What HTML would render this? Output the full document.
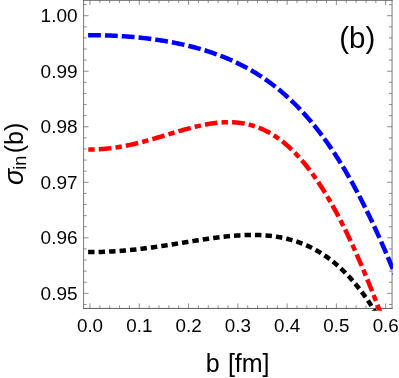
<!DOCTYPE html>
<html><head><meta charset="utf-8"><style>
html,body{margin:0;padding:0;background:#fff;}
body{width:399px;height:378px;overflow:hidden;}
svg{display:block;font-family:"Liberation Sans",sans-serif;}
</style></head><body>
<svg width="399" height="378" viewBox="0 0 399 378">
<rect width="399" height="378" fill="#fff"/>
<clipPath id="c"><rect x="83.6" y="-5" width="309.29999999999995" height="315.8"/></clipPath>
<g stroke="#747474" stroke-width="0.95" fill="none">
<line x1="83.6" y1="-0.6" x2="83.6" y2="308.95"/><line x1="392.05" y1="-0.6" x2="392.05" y2="308.95"/><line x1="83.1" y1="0.25" x2="392.55" y2="0.25" stroke="#4a4a4a" stroke-width="0.9"/><line x1="83.1" y1="308.45" x2="392.55" y2="308.45" stroke="#555"/>
</g>
<g stroke="#686868" stroke-width="0.75">
<line x1="90.00" y1="308.45" x2="90.00" y2="303.45"/>
<line x1="90.00" y1="-0.1" x2="90.00" y2="4.9"/>
<line x1="99.86" y1="308.45" x2="99.86" y2="305.34999999999997"/>
<line x1="99.86" y1="-0.1" x2="99.86" y2="3.0"/>
<line x1="109.71" y1="308.45" x2="109.71" y2="305.34999999999997"/>
<line x1="109.71" y1="-0.1" x2="109.71" y2="3.0"/>
<line x1="119.57" y1="308.45" x2="119.57" y2="305.34999999999997"/>
<line x1="119.57" y1="-0.1" x2="119.57" y2="3.0"/>
<line x1="129.42" y1="308.45" x2="129.42" y2="305.34999999999997"/>
<line x1="129.42" y1="-0.1" x2="129.42" y2="3.0"/>
<line x1="139.28" y1="308.45" x2="139.28" y2="303.45"/>
<line x1="139.28" y1="-0.1" x2="139.28" y2="4.9"/>
<line x1="149.14" y1="308.45" x2="149.14" y2="305.34999999999997"/>
<line x1="149.14" y1="-0.1" x2="149.14" y2="3.0"/>
<line x1="158.99" y1="308.45" x2="158.99" y2="305.34999999999997"/>
<line x1="158.99" y1="-0.1" x2="158.99" y2="3.0"/>
<line x1="168.85" y1="308.45" x2="168.85" y2="305.34999999999997"/>
<line x1="168.85" y1="-0.1" x2="168.85" y2="3.0"/>
<line x1="178.70" y1="308.45" x2="178.70" y2="305.34999999999997"/>
<line x1="178.70" y1="-0.1" x2="178.70" y2="3.0"/>
<line x1="188.56" y1="308.45" x2="188.56" y2="303.45"/>
<line x1="188.56" y1="-0.1" x2="188.56" y2="4.9"/>
<line x1="198.42" y1="308.45" x2="198.42" y2="305.34999999999997"/>
<line x1="198.42" y1="-0.1" x2="198.42" y2="3.0"/>
<line x1="208.27" y1="308.45" x2="208.27" y2="305.34999999999997"/>
<line x1="208.27" y1="-0.1" x2="208.27" y2="3.0"/>
<line x1="218.13" y1="308.45" x2="218.13" y2="305.34999999999997"/>
<line x1="218.13" y1="-0.1" x2="218.13" y2="3.0"/>
<line x1="227.98" y1="308.45" x2="227.98" y2="305.34999999999997"/>
<line x1="227.98" y1="-0.1" x2="227.98" y2="3.0"/>
<line x1="237.84" y1="308.45" x2="237.84" y2="303.45"/>
<line x1="237.84" y1="-0.1" x2="237.84" y2="4.9"/>
<line x1="247.70" y1="308.45" x2="247.70" y2="305.34999999999997"/>
<line x1="247.70" y1="-0.1" x2="247.70" y2="3.0"/>
<line x1="257.55" y1="308.45" x2="257.55" y2="305.34999999999997"/>
<line x1="257.55" y1="-0.1" x2="257.55" y2="3.0"/>
<line x1="267.41" y1="308.45" x2="267.41" y2="305.34999999999997"/>
<line x1="267.41" y1="-0.1" x2="267.41" y2="3.0"/>
<line x1="277.26" y1="308.45" x2="277.26" y2="305.34999999999997"/>
<line x1="277.26" y1="-0.1" x2="277.26" y2="3.0"/>
<line x1="287.12" y1="308.45" x2="287.12" y2="303.45"/>
<line x1="287.12" y1="-0.1" x2="287.12" y2="4.9"/>
<line x1="296.98" y1="308.45" x2="296.98" y2="305.34999999999997"/>
<line x1="296.98" y1="-0.1" x2="296.98" y2="3.0"/>
<line x1="306.83" y1="308.45" x2="306.83" y2="305.34999999999997"/>
<line x1="306.83" y1="-0.1" x2="306.83" y2="3.0"/>
<line x1="316.69" y1="308.45" x2="316.69" y2="305.34999999999997"/>
<line x1="316.69" y1="-0.1" x2="316.69" y2="3.0"/>
<line x1="326.54" y1="308.45" x2="326.54" y2="305.34999999999997"/>
<line x1="326.54" y1="-0.1" x2="326.54" y2="3.0"/>
<line x1="336.40" y1="308.45" x2="336.40" y2="303.45"/>
<line x1="336.40" y1="-0.1" x2="336.40" y2="4.9"/>
<line x1="346.26" y1="308.45" x2="346.26" y2="305.34999999999997"/>
<line x1="346.26" y1="-0.1" x2="346.26" y2="3.0"/>
<line x1="356.11" y1="308.45" x2="356.11" y2="305.34999999999997"/>
<line x1="356.11" y1="-0.1" x2="356.11" y2="3.0"/>
<line x1="365.97" y1="308.45" x2="365.97" y2="305.34999999999997"/>
<line x1="365.97" y1="-0.1" x2="365.97" y2="3.0"/>
<line x1="375.82" y1="308.45" x2="375.82" y2="305.34999999999997"/>
<line x1="375.82" y1="-0.1" x2="375.82" y2="3.0"/>
<line x1="385.68" y1="308.45" x2="385.68" y2="303.45"/>
<line x1="385.68" y1="-0.1" x2="385.68" y2="4.9"/>
<line x1="83.6" y1="4.59" x2="86.69999999999999" y2="4.59"/>
<line x1="392.05" y1="4.59" x2="388.95" y2="4.59"/>
<line x1="83.6" y1="15.70" x2="88.6" y2="15.70"/>
<line x1="392.05" y1="15.70" x2="387.05" y2="15.70"/>
<line x1="83.6" y1="26.81" x2="86.69999999999999" y2="26.81"/>
<line x1="392.05" y1="26.81" x2="388.95" y2="26.81"/>
<line x1="83.6" y1="37.91" x2="86.69999999999999" y2="37.91"/>
<line x1="392.05" y1="37.91" x2="388.95" y2="37.91"/>
<line x1="83.6" y1="49.02" x2="86.69999999999999" y2="49.02"/>
<line x1="392.05" y1="49.02" x2="388.95" y2="49.02"/>
<line x1="83.6" y1="60.12" x2="86.69999999999999" y2="60.12"/>
<line x1="392.05" y1="60.12" x2="388.95" y2="60.12"/>
<line x1="83.6" y1="71.23" x2="88.6" y2="71.23"/>
<line x1="392.05" y1="71.23" x2="387.05" y2="71.23"/>
<line x1="83.6" y1="82.34" x2="86.69999999999999" y2="82.34"/>
<line x1="392.05" y1="82.34" x2="388.95" y2="82.34"/>
<line x1="83.6" y1="93.44" x2="86.69999999999999" y2="93.44"/>
<line x1="392.05" y1="93.44" x2="388.95" y2="93.44"/>
<line x1="83.6" y1="104.55" x2="86.69999999999999" y2="104.55"/>
<line x1="392.05" y1="104.55" x2="388.95" y2="104.55"/>
<line x1="83.6" y1="115.65" x2="86.69999999999999" y2="115.65"/>
<line x1="392.05" y1="115.65" x2="388.95" y2="115.65"/>
<line x1="83.6" y1="126.76" x2="88.6" y2="126.76"/>
<line x1="392.05" y1="126.76" x2="387.05" y2="126.76"/>
<line x1="83.6" y1="137.87" x2="86.69999999999999" y2="137.87"/>
<line x1="392.05" y1="137.87" x2="388.95" y2="137.87"/>
<line x1="83.6" y1="148.97" x2="86.69999999999999" y2="148.97"/>
<line x1="392.05" y1="148.97" x2="388.95" y2="148.97"/>
<line x1="83.6" y1="160.08" x2="86.69999999999999" y2="160.08"/>
<line x1="392.05" y1="160.08" x2="388.95" y2="160.08"/>
<line x1="83.6" y1="171.18" x2="86.69999999999999" y2="171.18"/>
<line x1="392.05" y1="171.18" x2="388.95" y2="171.18"/>
<line x1="83.6" y1="182.29" x2="88.6" y2="182.29"/>
<line x1="392.05" y1="182.29" x2="387.05" y2="182.29"/>
<line x1="83.6" y1="193.40" x2="86.69999999999999" y2="193.40"/>
<line x1="392.05" y1="193.40" x2="388.95" y2="193.40"/>
<line x1="83.6" y1="204.50" x2="86.69999999999999" y2="204.50"/>
<line x1="392.05" y1="204.50" x2="388.95" y2="204.50"/>
<line x1="83.6" y1="215.61" x2="86.69999999999999" y2="215.61"/>
<line x1="392.05" y1="215.61" x2="388.95" y2="215.61"/>
<line x1="83.6" y1="226.71" x2="86.69999999999999" y2="226.71"/>
<line x1="392.05" y1="226.71" x2="388.95" y2="226.71"/>
<line x1="83.6" y1="237.82" x2="88.6" y2="237.82"/>
<line x1="392.05" y1="237.82" x2="387.05" y2="237.82"/>
<line x1="83.6" y1="248.93" x2="86.69999999999999" y2="248.93"/>
<line x1="392.05" y1="248.93" x2="388.95" y2="248.93"/>
<line x1="83.6" y1="260.03" x2="86.69999999999999" y2="260.03"/>
<line x1="392.05" y1="260.03" x2="388.95" y2="260.03"/>
<line x1="83.6" y1="271.14" x2="86.69999999999999" y2="271.14"/>
<line x1="392.05" y1="271.14" x2="388.95" y2="271.14"/>
<line x1="83.6" y1="282.24" x2="86.69999999999999" y2="282.24"/>
<line x1="392.05" y1="282.24" x2="388.95" y2="282.24"/>
<line x1="83.6" y1="293.35" x2="88.6" y2="293.35"/>
<line x1="392.05" y1="293.35" x2="387.05" y2="293.35"/>
<line x1="83.6" y1="304.46" x2="86.69999999999999" y2="304.46"/>
<line x1="392.05" y1="304.46" x2="388.95" y2="304.46"/>
</g>
<g clip-path="url(#c)" fill="none" stroke-width="4.5">
<path d="M88.10 252.07 L89.10 252.07 L90.10 252.07 L91.10 252.07 L92.10 252.07 L93.10 252.06 L94.10 252.05 L95.10 252.04 L96.10 252.02 L97.10 252.01 L98.10 251.99 L99.10 251.97 L100.10 251.94 L101.10 251.91 L102.10 251.88 L103.10 251.85 L104.10 251.82 L105.10 251.78 L106.10 251.74 L107.10 251.69 L108.10 251.65 L109.10 251.60 L110.10 251.55 L111.10 251.50 L112.10 251.44 L113.10 251.39 L114.10 251.33 L115.10 251.26 L116.10 251.20 L117.10 251.13 L118.10 251.06 L119.10 250.99 L120.10 250.91 L121.10 250.84 L122.10 250.76 L123.10 250.68 L124.10 250.59 L125.10 250.51 L126.10 250.42 L127.10 250.33 L128.10 250.24 L129.10 250.14 L130.10 250.04 L131.10 249.95 L132.10 249.84 L133.10 249.74 L134.10 249.64 L135.10 249.53 L136.10 249.42 L137.10 249.31 L138.10 249.20 L139.10 249.08 L140.10 248.96 L141.10 248.84 L142.10 248.72 L143.10 248.60 L144.10 248.48 L145.10 248.35 L146.10 248.22 L147.10 248.09 L148.10 247.96 L149.10 247.83 L150.10 247.70 L151.10 247.56 L152.10 247.42 L153.10 247.29 L154.10 247.15 L155.10 247.01 L156.10 246.86 L157.10 246.72 L158.10 246.57 L159.10 246.43 L160.10 246.28 L161.10 246.13 L162.10 245.98 L163.10 245.83 L164.10 245.68 L165.10 245.53 L166.10 245.37 L167.10 245.22 L168.10 245.06 L169.10 244.91 L170.10 244.75 L171.10 244.59 L172.10 244.43 L173.10 244.27 L174.10 244.11 L175.10 243.95 L176.10 243.79 L177.10 243.63 L178.10 243.47 L179.10 243.31 L180.10 243.15 L181.10 242.99 L182.10 242.82 L183.10 242.66 L184.10 242.50 L185.10 242.34 L186.10 242.18 L187.10 242.01 L188.10 241.85 L189.10 241.69 L190.10 241.53 L191.10 241.37 L192.10 241.21 L193.10 241.05 L194.10 240.89 L195.10 240.73 L196.10 240.57 L197.10 240.41 L198.10 240.26 L199.10 240.10 L200.10 239.95 L201.10 239.79 L202.10 239.64 L203.10 239.49 L204.10 239.34 L205.10 239.19 L206.10 239.04 L207.10 238.90 L208.10 238.75 L209.10 238.61 L210.10 238.47 L211.10 238.33 L212.10 238.19 L213.10 238.05 L214.10 237.92 L215.10 237.78 L216.10 237.65 L217.10 237.52 L218.10 237.40 L219.10 237.27 L220.10 237.15 L221.10 237.03 L222.10 236.91 L223.10 236.80 L224.10 236.69 L225.10 236.58 L226.10 236.47 L227.10 236.37 L228.10 236.27 L229.10 236.17 L230.10 236.07 L231.10 235.98 L232.10 235.90 L233.10 235.81 L234.10 235.73 L235.10 235.65 L236.10 235.58 L237.10 235.51 L238.10 235.44 L239.10 235.38 L240.10 235.32 L241.10 235.27 L242.10 235.21 L243.10 235.17 L244.10 235.13 L245.10 235.09 L246.10 235.06 L247.10 235.03 L248.10 235.00 L249.10 234.98 L250.10 234.97 L251.10 234.96 L252.10 234.96 L253.10 234.96 L254.10 234.96 L255.10 234.98 L256.10 234.99 L257.10 235.02 L258.10 235.04 L259.10 235.08 L260.10 235.12 L261.10 235.16 L262.10 235.22 L263.10 235.28 L264.10 235.34 L265.10 235.41 L266.10 235.49 L267.10 235.57 L268.10 235.66 L269.10 235.76 L270.10 235.86 L271.10 235.98 L272.10 236.09 L273.10 236.22 L274.10 236.35 L275.10 236.49 L276.10 236.64 L277.10 236.80 L278.10 236.96 L279.10 237.13 L280.10 237.31 L281.10 237.50 L282.10 237.70 L283.10 237.90 L284.10 238.11 L285.10 238.33 L286.10 238.56 L287.10 238.80 L288.10 239.05 L289.10 239.31 L290.10 239.58 L291.10 239.85 L292.10 240.14 L293.10 240.43 L294.10 240.74 L295.10 241.05 L296.10 241.38 L297.10 241.71 L298.10 242.06 L299.10 242.41 L300.10 242.78 L301.10 243.16 L302.10 243.54 L303.10 243.94 L304.10 244.35 L305.10 244.77 L306.10 245.20 L307.10 245.65 L308.10 246.10 L309.10 246.57 L310.10 247.05 L311.10 247.54 L312.10 248.04 L313.10 248.56 L314.10 249.09 L315.10 249.63 L316.10 250.18 L317.10 250.75 L318.10 251.33 L319.10 251.92 L320.10 252.53 L321.10 253.15 L322.10 253.79 L323.10 254.43 L324.10 255.10 L325.10 255.77 L326.10 256.46 L327.10 257.17 L328.10 257.89 L329.10 258.62 L330.10 259.37 L331.10 260.14 L332.10 260.92 L333.10 261.72 L334.10 262.53 L335.10 263.36 L336.10 264.20 L337.10 265.06 L338.10 265.94 L339.10 266.83 L340.10 267.74 L341.10 268.67 L342.10 269.61 L343.10 270.57 L344.10 271.55 L345.10 272.55 L346.10 273.57 L347.10 274.60 L348.10 275.65 L349.10 276.72 L350.10 277.81 L351.10 278.92 L352.10 280.04 L353.10 281.19 L354.10 282.36 L355.10 283.54 L356.10 284.75 L357.10 285.97 L358.10 287.22 L359.10 288.49 L360.10 289.77 L361.10 291.08 L362.10 292.41 L363.10 293.76 L364.10 295.14 L365.10 296.53 L366.10 297.95 L367.10 299.39 L368.10 300.85 L369.10 302.33 L370.10 303.84 L371.10 305.37 L372.10 306.92 L373.10 308.50 L374.10 310.11 L375.10 311.73 L375.87 313.00" stroke="#000" stroke-dasharray="6.45 4.05" />
<path d="M88.10 149.45 L89.10 149.46 L90.10 149.46 L91.10 149.46 L92.10 149.45 L93.10 149.43 L94.10 149.41 L95.10 149.39 L96.10 149.35 L97.10 149.31 L98.10 149.27 L99.10 149.22 L100.10 149.16 L101.10 149.10 L102.10 149.03 L103.10 148.95 L104.10 148.87 L105.10 148.79 L106.10 148.69 L107.10 148.60 L108.10 148.49 L109.10 148.38 L110.10 148.27 L111.10 148.15 L112.10 148.02 L113.10 147.89 L114.10 147.76 L115.10 147.61 L116.10 147.47 L117.10 147.31 L118.10 147.16 L119.10 146.99 L120.10 146.83 L121.10 146.65 L122.10 146.47 L123.10 146.29 L124.10 146.10 L125.10 145.91 L126.10 145.71 L127.10 145.51 L128.10 145.31 L129.10 145.10 L130.10 144.88 L131.10 144.66 L132.10 144.44 L133.10 144.21 L134.10 143.98 L135.10 143.74 L136.10 143.50 L137.10 143.26 L138.10 143.01 L139.10 142.76 L140.10 142.51 L141.10 142.25 L142.10 141.99 L143.10 141.73 L144.10 141.46 L145.10 141.19 L146.10 140.92 L147.10 140.65 L148.10 140.37 L149.10 140.09 L150.10 139.81 L151.10 139.52 L152.10 139.23 L153.10 138.94 L154.10 138.65 L155.10 138.36 L156.10 138.07 L157.10 137.77 L158.10 137.47 L159.10 137.17 L160.10 136.87 L161.10 136.57 L162.10 136.27 L163.10 135.97 L164.10 135.67 L165.10 135.36 L166.10 135.06 L167.10 134.76 L168.10 134.45 L169.10 134.15 L170.10 133.85 L171.10 133.54 L172.10 133.24 L173.10 132.94 L174.10 132.64 L175.10 132.34 L176.10 132.04 L177.10 131.74 L178.10 131.45 L179.10 131.15 L180.10 130.86 L181.10 130.57 L182.10 130.28 L183.10 130.00 L184.10 129.71 L185.10 129.43 L186.10 129.15 L187.10 128.88 L188.10 128.60 L189.10 128.33 L190.10 128.07 L191.10 127.81 L192.10 127.55 L193.10 127.29 L194.10 127.04 L195.10 126.80 L196.10 126.56 L197.10 126.32 L198.10 126.09 L199.10 125.86 L200.10 125.64 L201.10 125.42 L202.10 125.21 L203.10 125.00 L204.10 124.80 L205.10 124.61 L206.10 124.42 L207.10 124.24 L208.10 124.06 L209.10 123.89 L210.10 123.73 L211.10 123.58 L212.10 123.43 L213.10 123.29 L214.10 123.16 L215.10 123.03 L216.10 122.91 L217.10 122.81 L218.10 122.71 L219.10 122.61 L220.10 122.53 L221.10 122.45 L222.10 122.39 L223.10 122.33 L224.10 122.29 L225.10 122.25 L226.10 122.22 L227.10 122.20 L228.10 122.19 L229.10 122.20 L230.10 122.21 L231.10 122.23 L232.10 122.26 L233.10 122.31 L234.10 122.37 L235.10 122.43 L236.10 122.51 L237.10 122.60 L238.10 122.70 L239.10 122.82 L240.10 122.94 L241.10 123.08 L242.10 123.23 L243.10 123.39 L244.10 123.57 L245.10 123.76 L246.10 123.96 L247.10 124.18 L248.10 124.40 L249.10 124.65 L250.10 124.90 L251.10 125.17 L252.10 125.46 L253.10 125.75 L254.10 126.07 L255.10 126.39 L256.10 126.74 L257.10 127.09 L258.10 127.46 L259.10 127.85 L260.10 128.25 L261.10 128.67 L262.10 129.10 L263.10 129.55 L264.10 130.02 L265.10 130.50 L266.10 130.99 L267.10 131.51 L268.10 132.04 L269.10 132.58 L270.10 133.15 L271.10 133.72 L272.10 134.32 L273.10 134.93 L274.10 135.57 L275.10 136.21 L276.10 136.88 L277.10 137.56 L278.10 138.26 L279.10 138.98 L280.10 139.72 L281.10 140.47 L282.10 141.25 L283.10 142.04 L284.10 142.85 L285.10 143.67 L286.10 144.52 L287.10 145.39 L288.10 146.27 L289.10 147.17 L290.10 148.09 L291.10 149.04 L292.10 149.99 L293.10 150.97 L294.10 151.97 L295.10 152.99 L296.10 154.03 L297.10 155.08 L298.10 156.16 L299.10 157.26 L300.10 158.37 L301.10 159.51 L302.10 160.66 L303.10 161.84 L304.10 163.03 L305.10 164.25 L306.10 165.48 L307.10 166.74 L308.10 168.02 L309.10 169.31 L310.10 170.63 L311.10 171.96 L312.10 173.32 L313.10 174.70 L314.10 176.10 L315.10 177.51 L316.10 178.95 L317.10 180.41 L318.10 181.89 L319.10 183.39 L320.10 184.91 L321.10 186.45 L322.10 188.01 L323.10 189.59 L324.10 191.20 L325.10 192.82 L326.10 194.46 L327.10 196.13 L328.10 197.81 L329.10 199.51 L330.10 201.24 L331.10 202.98 L332.10 204.75 L333.10 206.54 L334.10 208.34 L335.10 210.17 L336.10 212.01 L337.10 213.88 L338.10 215.77 L339.10 217.68 L340.10 219.60 L341.10 221.55 L342.10 223.51 L343.10 225.50 L344.10 227.51 L345.10 229.53 L346.10 231.58 L347.10 233.64 L348.10 235.73 L349.10 237.83 L350.10 239.95 L351.10 242.09 L352.10 244.25 L353.10 246.43 L354.10 248.63 L355.10 250.84 L356.10 253.08 L357.10 255.33 L358.10 257.60 L359.10 259.89 L360.10 262.20 L361.10 264.53 L362.10 266.87 L363.10 269.23 L364.10 271.61 L365.10 274.00 L366.10 276.41 L367.10 278.84 L368.10 281.29 L369.10 283.75 L370.10 286.23 L371.10 288.72 L372.10 291.23 L373.10 293.76 L374.10 296.30 L375.10 298.86 L376.10 301.43 L377.10 304.02 L378.10 306.62 L379.10 309.24 L380.10 311.87 L380.53 313.00" stroke="#f00" stroke-dasharray="12.7 4.1 6.4 4.1" stroke-dashoffset="16.6"/>
<path d="M88.10 35.16 L89.10 35.16 L90.10 35.16 L91.10 35.16 L92.10 35.16 L93.10 35.17 L94.10 35.17 L95.10 35.18 L96.10 35.19 L97.10 35.21 L98.10 35.22 L99.10 35.24 L100.10 35.26 L101.10 35.28 L102.10 35.30 L103.10 35.32 L104.10 35.35 L105.10 35.38 L106.10 35.41 L107.10 35.44 L108.10 35.48 L109.10 35.52 L110.10 35.55 L111.10 35.59 L112.10 35.64 L113.10 35.68 L114.10 35.73 L115.10 35.78 L116.10 35.83 L117.10 35.88 L118.10 35.94 L119.10 35.99 L120.10 36.05 L121.10 36.11 L122.10 36.18 L123.10 36.24 L124.10 36.31 L125.10 36.38 L126.10 36.45 L127.10 36.53 L128.10 36.60 L129.10 36.68 L130.10 36.76 L131.10 36.84 L132.10 36.93 L133.10 37.02 L134.10 37.10 L135.10 37.20 L136.10 37.29 L137.10 37.39 L138.10 37.48 L139.10 37.58 L140.10 37.69 L141.10 37.79 L142.10 37.90 L143.10 38.01 L144.10 38.12 L145.10 38.24 L146.10 38.35 L147.10 38.47 L148.10 38.60 L149.10 38.72 L150.10 38.85 L151.10 38.98 L152.10 39.11 L153.10 39.24 L154.10 39.38 L155.10 39.52 L156.10 39.66 L157.10 39.81 L158.10 39.96 L159.10 40.11 L160.10 40.26 L161.10 40.42 L162.10 40.57 L163.10 40.73 L164.10 40.90 L165.10 41.07 L166.10 41.24 L167.10 41.41 L168.10 41.58 L169.10 41.76 L170.10 41.94 L171.10 42.13 L172.10 42.32 L173.10 42.51 L174.10 42.70 L175.10 42.90 L176.10 43.10 L177.10 43.30 L178.10 43.51 L179.10 43.72 L180.10 43.93 L181.10 44.14 L182.10 44.36 L183.10 44.59 L184.10 44.81 L185.10 45.04 L186.10 45.28 L187.10 45.51 L188.10 45.75 L189.10 46.00 L190.10 46.25 L191.10 46.50 L192.10 46.75 L193.10 47.01 L194.10 47.27 L195.10 47.54 L196.10 47.81 L197.10 48.09 L198.10 48.36 L199.10 48.65 L200.10 48.93 L201.10 49.23 L202.10 49.52 L203.10 49.82 L204.10 50.12 L205.10 50.43 L206.10 50.74 L207.10 51.06 L208.10 51.38 L209.10 51.71 L210.10 52.04 L211.10 52.37 L212.10 52.71 L213.10 53.06 L214.10 53.41 L215.10 53.76 L216.10 54.12 L217.10 54.48 L218.10 54.85 L219.10 55.23 L220.10 55.61 L221.10 55.99 L222.10 56.38 L223.10 56.78 L224.10 57.18 L225.10 57.59 L226.10 58.00 L227.10 58.41 L228.10 58.84 L229.10 59.27 L230.10 59.70 L231.10 60.14 L232.10 60.59 L233.10 61.04 L234.10 61.50 L235.10 61.97 L236.10 62.44 L237.10 62.91 L238.10 63.40 L239.10 63.89 L240.10 64.39 L241.10 64.89 L242.10 65.40 L243.10 65.92 L244.10 66.44 L245.10 66.97 L246.10 67.51 L247.10 68.05 L248.10 68.61 L249.10 69.17 L250.10 69.73 L251.10 70.31 L252.10 70.89 L253.10 71.48 L254.10 72.07 L255.10 72.68 L256.10 73.29 L257.10 73.91 L258.10 74.54 L259.10 75.17 L260.10 75.82 L261.10 76.47 L262.10 77.13 L263.10 77.80 L264.10 78.48 L265.10 79.17 L266.10 79.86 L267.10 80.57 L268.10 81.28 L269.10 82.00 L270.10 82.73 L271.10 83.47 L272.10 84.22 L273.10 84.98 L274.10 85.75 L275.10 86.53 L276.10 87.32 L277.10 88.11 L278.10 88.92 L279.10 89.74 L280.10 90.56 L281.10 91.40 L282.10 92.25 L283.10 93.11 L284.10 93.97 L285.10 94.85 L286.10 95.74 L287.10 96.64 L288.10 97.55 L289.10 98.47 L290.10 99.41 L291.10 100.35 L292.10 101.31 L293.10 102.27 L294.10 103.25 L295.10 104.24 L296.10 105.24 L297.10 106.25 L298.10 107.28 L299.10 108.31 L300.10 109.36 L301.10 110.42 L302.10 111.49 L303.10 112.58 L304.10 113.68 L305.10 114.79 L306.10 115.91 L307.10 117.04 L308.10 118.19 L309.10 119.35 L310.10 120.52 L311.10 121.71 L312.10 122.91 L313.10 124.12 L314.10 125.35 L315.10 126.59 L316.10 127.84 L317.10 129.11 L318.10 130.39 L319.10 131.68 L320.10 132.99 L321.10 134.31 L322.10 135.65 L323.10 137.00 L324.10 138.37 L325.10 139.74 L326.10 141.14 L327.10 142.54 L328.10 143.97 L329.10 145.40 L330.10 146.86 L331.10 148.32 L332.10 149.80 L333.10 151.30 L334.10 152.81 L335.10 154.34 L336.10 155.88 L337.10 157.43 L338.10 159.00 L339.10 160.59 L340.10 162.19 L341.10 163.81 L342.10 165.45 L343.10 167.09 L344.10 168.76 L345.10 170.44 L346.10 172.13 L347.10 173.85 L348.10 175.57 L349.10 177.32 L350.10 179.08 L351.10 180.85 L352.10 182.64 L353.10 184.45 L354.10 186.27 L355.10 188.11 L356.10 189.96 L357.10 191.84 L358.10 193.72 L359.10 195.63 L360.10 197.55 L361.10 199.48 L362.10 201.43 L363.10 203.40 L364.10 205.38 L365.10 207.38 L366.10 209.40 L367.10 211.43 L368.10 213.48 L369.10 215.54 L370.10 217.62 L371.10 219.72 L372.10 221.83 L373.10 223.96 L374.10 226.11 L375.10 228.26 L376.10 230.44 L377.10 232.63 L378.10 234.84 L379.10 237.06 L380.10 239.30 L381.10 241.55 L382.10 243.82 L383.10 246.11 L384.10 248.40 L385.10 250.72 L386.10 253.05 L387.10 255.39 L388.10 257.75 L389.10 260.12 L390.10 262.51 L391.10 264.91 L392.10 267.33 L393.10 269.76 L394.10 272.20 L395.10 274.66 L396.10 277.13" stroke="#00f" stroke-dasharray="12.8 4.04"/>
</g>
<g fill="#000" style="will-change:transform">
<text x="77.6" y="22.00" text-anchor="end" font-size="19">1.00</text>
<text x="77.6" y="77.53" text-anchor="end" font-size="19">0.99</text>
<text x="77.6" y="133.06" text-anchor="end" font-size="19">0.98</text>
<text x="77.6" y="188.59" text-anchor="end" font-size="19">0.97</text>
<text x="77.6" y="244.12" text-anchor="end" font-size="19">0.96</text>
<text x="77.6" y="299.65" text-anchor="end" font-size="19">0.95</text>
<text x="90.00" y="331.6" text-anchor="middle" font-size="18.8">0.0</text>
<text x="139.28" y="331.6" text-anchor="middle" font-size="18.8">0.1</text>
<text x="188.56" y="331.6" text-anchor="middle" font-size="18.8">0.2</text>
<text x="237.84" y="331.6" text-anchor="middle" font-size="18.8">0.3</text>
<text x="287.12" y="331.6" text-anchor="middle" font-size="18.8">0.4</text>
<text x="336.40" y="331.6" text-anchor="middle" font-size="18.8">0.5</text>
<text x="385.68" y="331.6" text-anchor="middle" font-size="18.8">0.6</text>
<text x="339.3" y="48.3" font-size="29.5">(b)</text>
<text x="205.8" y="371.6" font-size="25">b</text><text x="227.9" y="371.6" font-size="25">[fm]</text>
<g transform="rotate(-90)"><text x="-184.9" y="23.0" font-size="26.8" font-style="italic">σ</text><text x="-169.8" y="25.9" font-size="18.1">in</text><text x="-153.3" y="23.3" font-size="25">(b)</text></g>
</g>
</svg>
</body></html>
